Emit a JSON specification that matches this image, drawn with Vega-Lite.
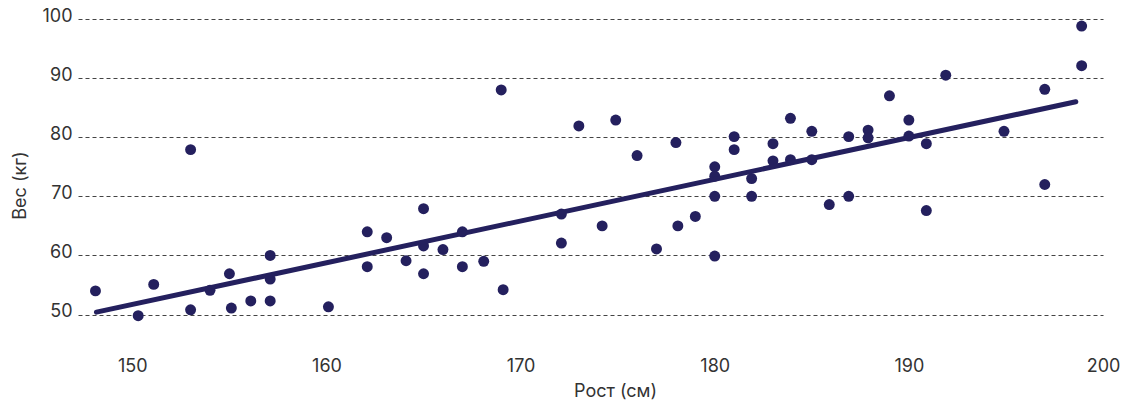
{
  "$schema": "https://vega.github.io/schema/vega-lite/v6.json",
  "width": 1025,
  "height": 331,
  "autosize": "none",
  "padding": {"left": 78, "top": 19, "right": 30, "bottom": 53},
  "background": "white",
  "config": {"view": {"stroke": null}, "font": "Inter"},
  "datasets": {
    "points": [
      {"rost": 148.1, "ves": 54.0},
      {"rost": 150.3, "ves": 49.8},
      {"rost": 151.1, "ves": 55.1},
      {"rost": 153.0, "ves": 77.9},
      {"rost": 153.0, "ves": 50.8},
      {"rost": 154.0, "ves": 54.1},
      {"rost": 155.0, "ves": 56.9},
      {"rost": 155.1, "ves": 51.1},
      {"rost": 156.1, "ves": 52.3},
      {"rost": 157.1, "ves": 60.0},
      {"rost": 157.1, "ves": 56.0},
      {"rost": 157.1, "ves": 52.3},
      {"rost": 160.1, "ves": 51.3},
      {"rost": 162.1, "ves": 64.0},
      {"rost": 162.1, "ves": 58.1},
      {"rost": 163.1, "ves": 63.0},
      {"rost": 164.1, "ves": 59.1},
      {"rost": 165.0, "ves": 67.9},
      {"rost": 165.0, "ves": 61.6},
      {"rost": 165.0, "ves": 56.9},
      {"rost": 166.0, "ves": 61.0},
      {"rost": 167.0, "ves": 64.0},
      {"rost": 167.0, "ves": 58.1},
      {"rost": 168.1, "ves": 59.0},
      {"rost": 169.0, "ves": 88.0},
      {"rost": 169.1, "ves": 54.2},
      {"rost": 172.1, "ves": 67.0},
      {"rost": 172.1, "ves": 62.1},
      {"rost": 173.0, "ves": 81.9},
      {"rost": 174.2, "ves": 65.0},
      {"rost": 174.9, "ves": 82.9},
      {"rost": 176.0, "ves": 76.9},
      {"rost": 177.0, "ves": 61.1},
      {"rost": 178.0, "ves": 79.1},
      {"rost": 178.1, "ves": 65.0},
      {"rost": 179.0, "ves": 66.6},
      {"rost": 180.0, "ves": 75.0},
      {"rost": 180.0, "ves": 73.4},
      {"rost": 180.0, "ves": 70.0},
      {"rost": 180.0, "ves": 59.9},
      {"rost": 181.0, "ves": 80.1},
      {"rost": 181.0, "ves": 77.9},
      {"rost": 181.9, "ves": 73.0},
      {"rost": 181.9, "ves": 70.0},
      {"rost": 183.0, "ves": 78.9},
      {"rost": 183.0, "ves": 76.0},
      {"rost": 183.9, "ves": 83.2},
      {"rost": 183.9, "ves": 76.2},
      {"rost": 185.0, "ves": 81.0},
      {"rost": 185.0, "ves": 76.2},
      {"rost": 185.9, "ves": 68.6},
      {"rost": 186.9, "ves": 80.1},
      {"rost": 186.9, "ves": 70.0},
      {"rost": 187.9, "ves": 81.2},
      {"rost": 187.9, "ves": 79.9},
      {"rost": 189.0, "ves": 87.0},
      {"rost": 190.0, "ves": 82.9},
      {"rost": 190.0, "ves": 80.2},
      {"rost": 190.9, "ves": 78.9},
      {"rost": 190.9, "ves": 67.6},
      {"rost": 191.9, "ves": 90.5},
      {"rost": 194.9, "ves": 81.0},
      {"rost": 197.0, "ves": 88.1},
      {"rost": 197.0, "ves": 72.0},
      {"rost": 198.9, "ves": 98.8},
      {"rost": 198.9, "ves": 92.1}
    ],
    "trend": [
      {"rost": 148.15, "ves": 50.4},
      {"rost": 198.6, "ves": 86.0}
    ]
  },
  "layer": [
    {
      "data": {"name": "points"},
      "mark": {"type": "circle", "size": 120, "opacity": 1, "color": "#24205e"},
      "encoding": {
        "x": {
          "field": "rost", "type": "quantitative",
          "scale": {"domain": [147.2, 200], "nice": false, "zero": false},
          "axis": {
            "values": [150, 160, 170, 180, 190, 200],
            "domain": false, "ticks": false, "grid": false,
            "labelFlush": false,
            "labelFontSize": 18, "labelColor": "#333333",
            "labelBaseline": "alphabetic", "labelPadding": 21,
            "title": "Рост (см)", "titleFontSize": 18, "titleFontWeight": "normal",
            "titleColor": "#333333", "titleX": 537, "titleY": 46,
            "titleBaseline": "alphabetic", "titleAlign": "center"
          }
        },
        "y": {
          "field": "ves", "type": "quantitative",
          "scale": {"domain": [44, 100], "nice": false, "zero": false},
          "axis": {
            "values": [50, 60, 70, 80, 90, 100],
            "domain": false, "ticks": false, "grid": true,
            "gridDash": [4, 3], "gridColor": "#444444", "gridWidth": 1,
            "labelFlush": false,
            "labelFontSize": 18, "labelColor": "#333333",
            "labelBaseline": "alphabetic", "labelPadding": 6, "labelOffset": 2,
            "title": "Вес (кг)", "titleFontSize": 18, "titleFontWeight": "normal",
            "titleColor": "#333333", "titleX": -53, "titleY": 166,
            "titleBaseline": "alphabetic", "titleAlign": "center", "titleAngle": 270
          }
        }
      }
    },
    {
      "data": {"name": "trend"},
      "mark": {"type": "line", "color": "#24205e", "strokeWidth": 5, "strokeCap": "round"},
      "encoding": {
        "x": {"field": "rost", "type": "quantitative"},
        "y": {"field": "ves", "type": "quantitative"}
      }
    }
  ]
}
